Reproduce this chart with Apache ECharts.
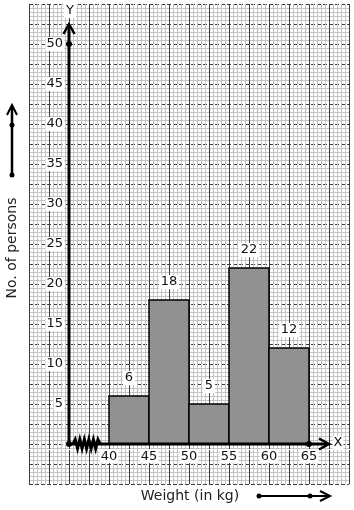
<!DOCTYPE html>
<html><head><meta charset="utf-8">
<script src="https://cdn.jsdelivr.net/npm/echarts@6.0.0/dist/echarts.min.js"></script>
<style>html,body{margin:0;padding:0;background:#fff}#c{width:354px;height:510px}</style>
</head><body><div id="c"></div>
<script>
// ---- data ----
const binStarts = [40, 45, 50, 55, 60];
const binEnds   = [45, 50, 55, 60, 65];
const persons   = [6, 18, 5, 22, 12];
const xTickLabels = [40, 45, 50, 55, 60, 65];
const yTickLabels = [5, 10, 15, 20, 25, 30, 35, 40, 45, 50];
const xTitle = 'Weight (in kg)';
const yTitle = 'No. of persons';
const X_ORIGIN_KG = 35; // broken (kinked) x-axis: origin stands for this value

const FONT = 'DejaVu Sans';
const chart = echarts.init(document.getElementById('c'), null, {renderer: 'canvas'});

const barData = binStarts.map((s, i) => [s - X_ORIGIN_KG, binEnds[i] - X_ORIGIN_KG, persons[i]]);

function chevron(tip, dir, len, half) {
  if (dir === 'up') return [[tip[0] - half, tip[1] + len], tip, [tip[0] + half, tip[1] + len]];
  return [[tip[0] - len, tip[1] - half], tip, [tip[0] - len, tip[1] + half]];
}

const option = {
  animation: false,
  backgroundColor: '#fff',
  grid: {left: 29, top: 4, width: 320, height: 480, containLabel: false, show: false},
  xAxis: {
    type: 'value', min: -5, max: 35, interval: 2.5, position: 'bottom', offset: -40,
    axisLine: {show: true, onZero: false, lineStyle: {opacity: 0}},
    axisTick: {show: false},
    axisLabel: {
      show: true, margin: 5, fontSize: 13, fontFamily: FONT, color: '#111',
      backgroundColor: '#fff', padding: [1, 1, 0, 1],
      formatter: v => { const kg = v + X_ORIGIN_KG; return xTickLabels.includes(kg) ? String(kg) : ''; }
    },
    splitLine: {show: true, lineStyle: {color: '#3c3c3c', width: 1}},
    minorTick: {show: false, splitNumber: 5},
    minorSplitLine: {show: true, lineStyle: {color: '#c4c4c4', width: 1}}
  },
  yAxis: {
    type: 'value', min: -5, max: 55, interval: 2.5, position: 'left', offset: -40,
    axisLine: {show: true, onZero: false, lineStyle: {opacity: 0}},
    axisTick: {show: false},
    axisLabel: {
      show: true, margin: 5, fontSize: 13, fontFamily: FONT, color: '#111',
      backgroundColor: '#fff', padding: [1, 1, 0, 1],
      formatter: v => yTickLabels.includes(v) ? String(v) : ''
    },
    splitLine: {show: true, lineStyle: {color: '#3c3c3c', width: 1, type: [4, 2]}},
    minorTick: {show: false, splitNumber: 5},
    minorSplitLine: {show: true, lineStyle: {color: '#c4c4c4', width: 1}}
  },
  series: [
    {
      type: 'custom', z: 3,
      data: barData,
      renderItem: (params, api) => {
        const lo = api.value(0), hi = api.value(1), v = api.value(2);
        const p0 = api.coord([lo, v]), p1 = api.coord([hi, 0]);
        return {type: 'group', children: [
          {type: 'rect', shape: {x: p0[0], y: p0[1], width: p1[0] - p0[0], height: p1[1] - p0[1]},
           style: {fill: '#919191', stroke: '#000', lineWidth: 1.5}},
          {type: 'text', z2: 10, style: {text: String(v), x: (p0[0] + p1[0]) / 2, y: p0[1] - 18,
           align: 'center', verticalAlign: 'middle', fontSize: 13, fontFamily: FONT, fill: '#111',
           backgroundColor: '#fff', padding: [1, 2, 0, 2]}}
        ]};
      }
    },
    {
      type: 'custom', z: 5,
      data: [[0, 0]],
      renderItem: (params, api) => {
        const o = api.coord([0, 0]);
        const yTop = api.coord([0, 52.5]);
        const xEnd = api.coord([32.5, 0]);
        const y50 = api.coord([0, 50]);
        const x65 = api.coord([65 - X_ORIGIN_KG, 0]);
        const zz0 = api.coord([0.5, 0]), zz1 = api.coord([3.9, 0]);
        const zz = [];
        const n = 12;
        for (let i = 0; i <= n; i++) {
          const x = zz0[0] + (zz1[0] - zz0[0]) * i / n;
          const dy = i === 0 || i === n ? 0 : (i % 2 ? -4.5 : 4.5);
          zz.push([x, o[1] + dy]);
        }
        const black = {stroke: '#000', fill: null};
        return {type: 'group', children: [
          {type: 'line', shape: {x1: o[0], y1: o[1], x2: yTop[0], y2: yTop[1] + 1}, style: Object.assign({lineWidth: 3}, black)},
          {type: 'polyline', shape: {points: chevron(yTop, 'up', 10, 5.5)}, style: Object.assign({lineWidth: 2.5}, black)},
          {type: 'line', shape: {x1: o[0], y1: o[1], x2: xEnd[0] - 1, y2: xEnd[1]}, style: Object.assign({lineWidth: 3}, black)},
          {type: 'polyline', shape: {points: chevron(xEnd, 'right', 10, 5.5)}, style: Object.assign({lineWidth: 2.5}, black)},
          {type: 'polyline', shape: {points: zz}, style: Object.assign({lineWidth: 3}, black)},
          {type: 'circle', shape: {cx: o[0], cy: o[1], r: 3}, style: {fill: '#000'}},
          {type: 'circle', shape: {cx: y50[0], cy: y50[1], r: 3}, style: {fill: '#000'}},
          {type: 'circle', shape: {cx: x65[0], cy: x65[1], r: 3}, style: {fill: '#000'}},
          {type: 'text', style: {text: 'Y', x: yTop[0] + 1, y: yTop[1] - 13, align: 'center', verticalAlign: 'middle',
            fontSize: 13, fontFamily: FONT, fill: '#111', backgroundColor: '#fff', padding: [1, 2, 0, 2]}},
          {type: 'text', style: {text: 'X', x: xEnd[0] + 9, y: xEnd[1] - 1, align: 'center', verticalAlign: 'middle',
            fontSize: 13, fontFamily: FONT, fill: '#111', backgroundColor: '#fff', padding: [1, 1, 0, 1]}}
        ]};
      }
    }
  ],
  graphic: [
    {type: 'text', x: 12, y: 248, rotation: Math.PI / 2, z: 10,
     style: {text: yTitle, align: 'center', verticalAlign: 'middle', fontSize: 14, fontFamily: FONT, fill: '#222'}},
    {type: 'text', x: 190, y: 496, z: 10,
     style: {text: xTitle, align: 'center', verticalAlign: 'middle', fontSize: 14, fontFamily: FONT, fill: '#222'}},
    {type: 'line', z: 10, shape: {x1: 12, y1: 175, x2: 12, y2: 106}, style: {stroke: '#000', lineWidth: 2.5}},
    {type: 'polyline', z: 10, shape: {points: chevron([12, 105], 'up', 10, 5)}, style: {stroke: '#000', fill: null, lineWidth: 2}},
    {type: 'circle', z: 10, shape: {cx: 12, cy: 175, r: 2.5}, style: {fill: '#000'}},
    {type: 'circle', z: 10, shape: {cx: 12, cy: 125, r: 2.5}, style: {fill: '#000'}},
    {type: 'line', z: 10, shape: {x1: 259, y1: 496, x2: 329, y2: 496}, style: {stroke: '#000', lineWidth: 2}},
    {type: 'polyline', z: 10, shape: {points: chevron([330, 496], 'right', 10, 5)}, style: {stroke: '#000', fill: null, lineWidth: 2}},
    {type: 'circle', z: 10, shape: {cx: 259, cy: 496, r: 2.5}, style: {fill: '#000'}},
    {type: 'circle', z: 10, shape: {cx: 310, cy: 496, r: 2.5}, style: {fill: '#000'}}
  ]
};
chart.setOption(option);
</script>
</body></html>
